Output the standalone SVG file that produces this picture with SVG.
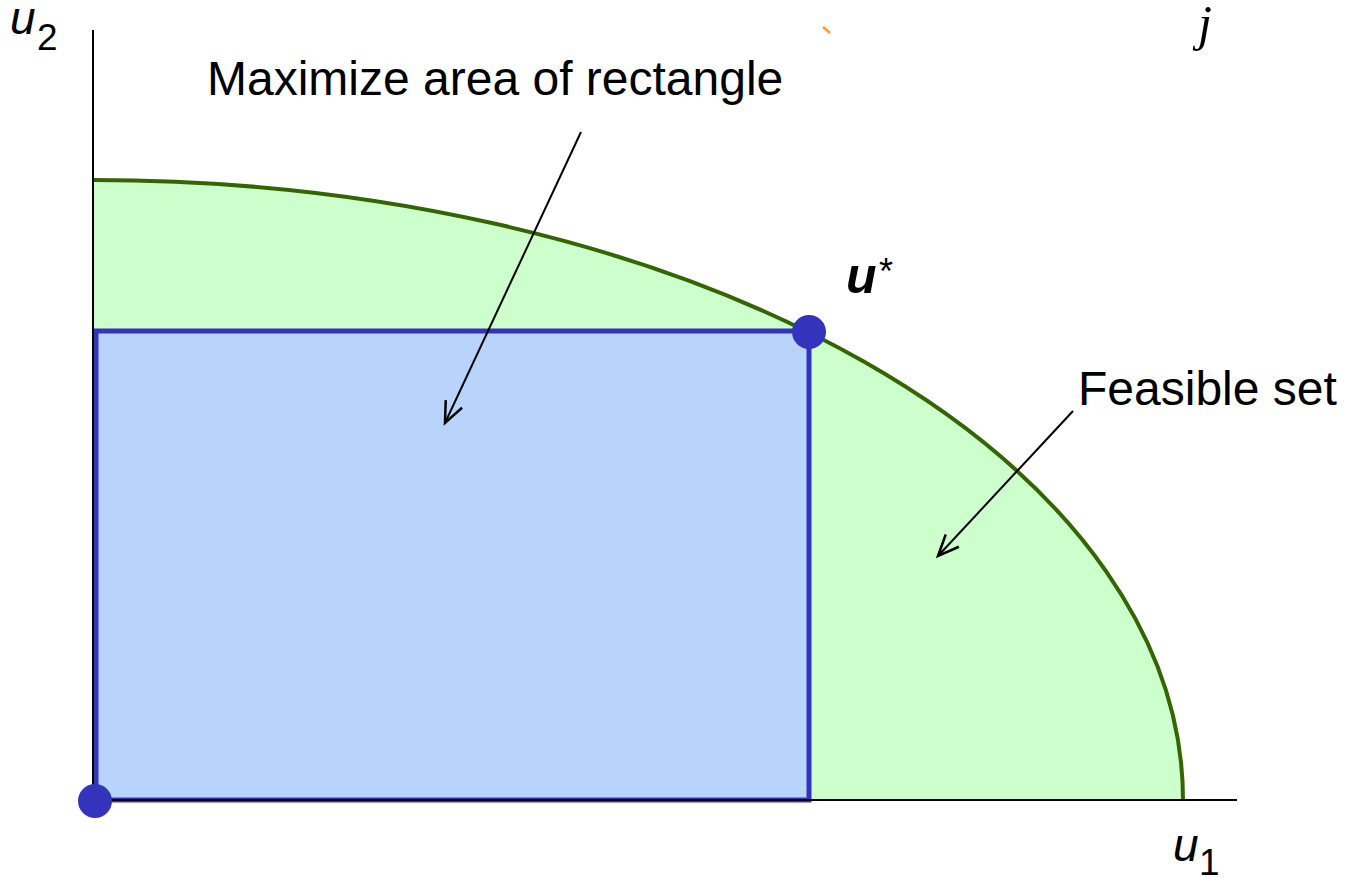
<svg xmlns="http://www.w3.org/2000/svg" width="1354" height="878" viewBox="0 0 1354 878">
<style>
.lbl{font-family:"Liberation Sans",Arial,sans-serif;font-size:48px;fill:#000}
.math{font-family:"Liberation Sans",Arial,sans-serif;font-style:italic;fill:#000}
.dot{fill:#3333bb}
.arr{stroke:#000;stroke-width:2;fill:none}
</style>
<defs>
<marker id="open" markerUnits="userSpaceOnUse" markerWidth="30" markerHeight="30" refX="22" refY="10" orient="auto" viewBox="0 0 30 20">
<path d="M1,1 L22,10 L1,19" fill="none" stroke="#000" stroke-width="2.5"/>
</marker>
</defs>
<rect width="1354" height="878" fill="#fff"/>
<g id="feasible-set">
<path d="M93,800 L93,180 A1090,620 0 0 1 1183,800 Z" fill="#ccffcc"/>
<path d="M93,180 A1090,620 0 0 1 1183,800" fill="none" stroke="#336600" stroke-width="4"/>
</g>
<g id="rectangle">
<rect x="96" y="331" width="713" height="469" fill="#b8d4fc" stroke="#3333bb" stroke-width="5"/>
</g>
<g id="axes">
<line x1="93" y1="30" x2="93" y2="800" stroke="#000" stroke-width="2"/>
<line x1="93" y1="800" x2="1237" y2="800" stroke="#000" stroke-width="2"/>
</g>
<g id="origin"><circle class="dot" cx="95" cy="801" r="17"/></g>
<g id="ustar-point"><circle class="dot" cx="809" cy="332" r="17"/></g>
<g id="connectors">
<line class="arr" x1="581" y1="132" x2="445" y2="423" marker-end="url(#open)"/>
<line class="arr" x1="1073" y1="411" x2="938" y2="556" marker-end="url(#open)"/>
</g>
<g id="label-maximize"><text class="lbl" x="207" y="95">Maximize area of rectangle</text></g>
<g id="label-feasible"><text class="lbl" x="1078" y="405">Feasible set</text></g>
<g id="label-ustar"><text x="846" y="293" font-family="Liberation Sans,Arial,sans-serif" font-weight="bold" font-style="italic" font-size="50">u</text><text x="879" y="284" font-family="Liberation Sans,Arial,sans-serif" font-size="36">*</text></g>
<g id="label-u2"><text class="math" x="10" y="34" font-size="46">u</text><text x="37" y="50" font-family="Liberation Sans,Arial,sans-serif" font-size="37">2</text></g>
<g id="label-u1"><text class="math" x="1173" y="861" font-size="46">u</text><text x="1199" y="875" font-family="Liberation Sans,Arial,sans-serif" font-size="37">1</text></g>
<g id="label-j"><text x="1198" y="40" font-family="Liberation Serif,Times New Roman,serif" font-style="italic" font-size="50">j</text></g>
<g id="tick"><line x1="823" y1="27" x2="830" y2="33" stroke="#ff9933" stroke-width="2.5"/></g>
</svg>
